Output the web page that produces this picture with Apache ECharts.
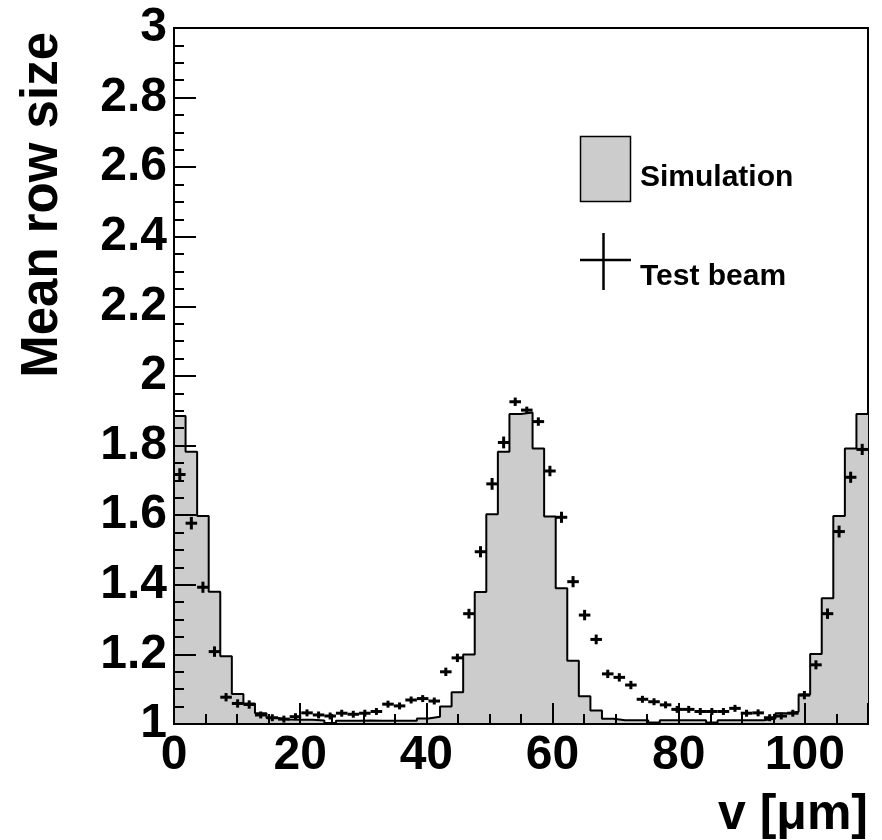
<!DOCTYPE html>
<html><head><meta charset="utf-8">
<script src="https://cdn.jsdelivr.net/npm/echarts@6/dist/echarts.min.js"></script>
<style>html,body{margin:0;padding:0;background:#fff}#c{width:882px;height:840px}</style>
</head><body><div id="c"></div>
<script>
// v range 0..110 µm in 60 bins
const vMin = 0, vMax = 110, nBins = 60;
const binWidth = (vMax - vMin) / nBins;

const simulation = [
  1.885, 1.782, 1.598, 1.380, 1.195, 1.086, 1.059, 1.031, 1.017, 1.013,
  1.012, 1.012, 1.010, 1.003, 1.009, 1.009, 1.010, 1.009, 1.009, 1.009,
  1.009, 1.016, 1.021, 1.050, 1.091, 1.200, 1.379, 1.603, 1.782, 1.891,
  1.895, 1.792, 1.596, 1.390, 1.182, 1.080, 1.039, 1.015, 1.011, 1.011,
  1.011, 1.004, 1.011, 1.011, 1.011, 1.011, 1.004, 1.011, 1.011, 1.011,
  1.011, 1.016, 1.031, 1.035, 1.085, 1.201, 1.361, 1.598, 1.792, 1.891
];

const testBeam = [
  1.717, 1.577, 1.393, 1.208, 1.077, 1.059, 1.056, 1.026, 1.018, 1.014,
  1.021, 1.032, 1.026, 1.023, 1.031, 1.028, 1.031, 1.036, 1.057, 1.052,
  1.069, 1.073, 1.066, 1.150, 1.190, 1.317, 1.495, 1.690, 1.809, 1.926,
  1.902, 1.869, 1.727, 1.594, 1.409, 1.313, 1.243, 1.144, 1.134, 1.112,
  1.071, 1.064, 1.055, 1.042, 1.042, 1.036, 1.036, 1.036, 1.045, 1.031,
  1.032, 1.018, 1.023, 1.031, 1.083, 1.170, 1.317, 1.553, 1.709, 1.789
];

const testBeamErr = [
  0.018, 0.018, 0.016, 0.015, 0.012, 0.012, 0.012, 0.010, 0.010, 0.010,
  0.010, 0.010, 0.010, 0.010, 0.010, 0.010, 0.010, 0.010, 0.010, 0.010,
  0.010, 0.010, 0.010, 0.012, 0.012, 0.014, 0.016, 0.017, 0.017, 0.012,
  0.010, 0.012, 0.015, 0.016, 0.016, 0.015, 0.014, 0.012, 0.012, 0.012,
  0.010, 0.010, 0.010, 0.010, 0.010, 0.010, 0.010, 0.010, 0.010, 0.010,
  0.010, 0.010, 0.010, 0.010, 0.012, 0.013, 0.015, 0.017, 0.016, 0.016
];

const yMin = 1, yMax = 3, yStep = 0.2;
const xMajorStep = 20, xMinorStep = 5;
const xTitle = 'v [\u03BCm]';
const yTitle = 'Mean row size';
const legendNames = ['Simulation', 'Test beam'];

const FONT = '"Liberation Sans", Arial, Helvetica, sans-serif';

const simData = simulation.map((v, i) => [vMin + i * binWidth, v]);
simData.push([vMax, simulation[simulation.length - 1]]);
const tbData = testBeam.map((v, i) => [vMin + (i + 0.5) * binWidth, v, testBeamErr[i]]);

const chart = echarts.init(document.getElementById('c'), null, {renderer: 'canvas'});
chart.setOption({
  animation: false,
  backgroundColor: '#fff',
  grid: {left: 174, right: 14, top: 28, bottom: 116, show: true,
         borderColor: '#000', borderWidth: 2, backgroundColor: 'transparent'},
  xAxis: [{
    type: 'value', min: vMin, max: vMax, interval: xMajorStep, z: 5,
    axisLine: {show: true, onZero: false, lineStyle: {color: '#000', width: 2}},
    axisTick: {show: true, inside: true, length: 21, lineStyle: {color: '#000', width: 2}},
    axisLabel: {show: true, margin: 8, color: '#000', fontFamily: FONT, fontWeight: 'bold',
      fontSize: 48, lineHeight: 48,
      formatter: v => (v > vMax - xMinorStep / 2 ? '' : String(v))},
    splitLine: {show: false}
  }, {
    type: 'value', min: vMin, max: vMax, interval: xMinorStep, z: 5, position: 'bottom',
    axisLine: {show: false},
    axisTick: {show: true, inside: true, length: 10, lineStyle: {color: '#000', width: 2}},
    axisLabel: {show: false},
    splitLine: {show: false}
  }],
  yAxis: {
    type: 'value', min: yMin, max: yMax, interval: yStep, z: 5,
    axisLine: {show: true, onZero: false, lineStyle: {color: '#000', width: 2}},
    axisTick: {show: true, inside: true, length: 22, lineStyle: {color: '#000', width: 2}},
    minorTick: {show: true, splitNumber: 4, length: 10, lineStyle: {color: '#000', width: 2}},
    axisLabel: {margin: 7, color: '#000', fontFamily: FONT, fontWeight: 'bold', fontSize: 48, lineHeight: 48},
    splitLine: {show: false}, minorSplitLine: {show: false}
  },
  series: [{
    name: legendNames[0], type: 'line', step: 'end', xAxisIndex: 0,
    data: simData, symbol: 'none', z: 2,
    lineStyle: {color: '#000', width: 2},
    areaStyle: {color: '#cccccc', opacity: 1, origin: 'start'}
  }, {
    name: legendNames[1], type: 'custom', xAxisIndex: 0, z: 3,
    data: tbData,
    renderItem: (params, api) => {
      const x = api.value(0), y = api.value(1), e = api.value(2);
      const l = api.coord([x - binWidth / 2, y]);
      const r = api.coord([x + binWidth / 2, y]);
      const t = api.coord([x, y + e]);
      const b = api.coord([x, y - e]);
      return {type: 'group', children: [
        {type: 'line', shape: {x1: l[0], y1: l[1], x2: r[0], y2: r[1]}, style: {stroke: '#000', lineWidth: 3}},
        {type: 'line', shape: {x1: t[0], y1: t[1], x2: b[0], y2: b[1]}, style: {stroke: '#000', lineWidth: 3}}
      ]};
    }
  }],
  graphic: [
    {type: 'text', x: 868, y: 815, z: 10, style: {text: xTitle, align: 'right', verticalAlign: 'middle',
      font: 'bold 50px ' + FONT, fill: '#000'}},
    {type: 'text', x: 43, y: 32, rotation: Math.PI / 2, z: 10, style: {text: yTitle, align: 'right', verticalAlign: 'middle',
      font: 'bold 51px ' + FONT, fill: '#000'}},
    {type: 'rect', shape: {x: 580.5, y: 136.5, width: 50, height: 65}, z: 10,
      style: {fill: '#cccccc', stroke: '#000', lineWidth: 1.5}},
    {type: 'text', x: 640, y: 178, z: 10, style: {text: legendNames[0], align: 'left', verticalAlign: 'middle',
      font: 'bold 30px ' + FONT, fill: '#000'}},
    {type: 'line', shape: {x1: 580, y1: 260, x2: 631, y2: 260}, z: 10, style: {stroke: '#000', lineWidth: 2.5}},
    {type: 'line', shape: {x1: 603.5, y1: 233, x2: 603.5, y2: 290}, z: 10, style: {stroke: '#000', lineWidth: 2.5}},
    {type: 'text', x: 640, y: 277, z: 10, style: {text: legendNames[1], align: 'left', verticalAlign: 'middle',
      font: 'bold 30px ' + FONT, fill: '#000'}}
  ]
});
</script>
</body></html>
